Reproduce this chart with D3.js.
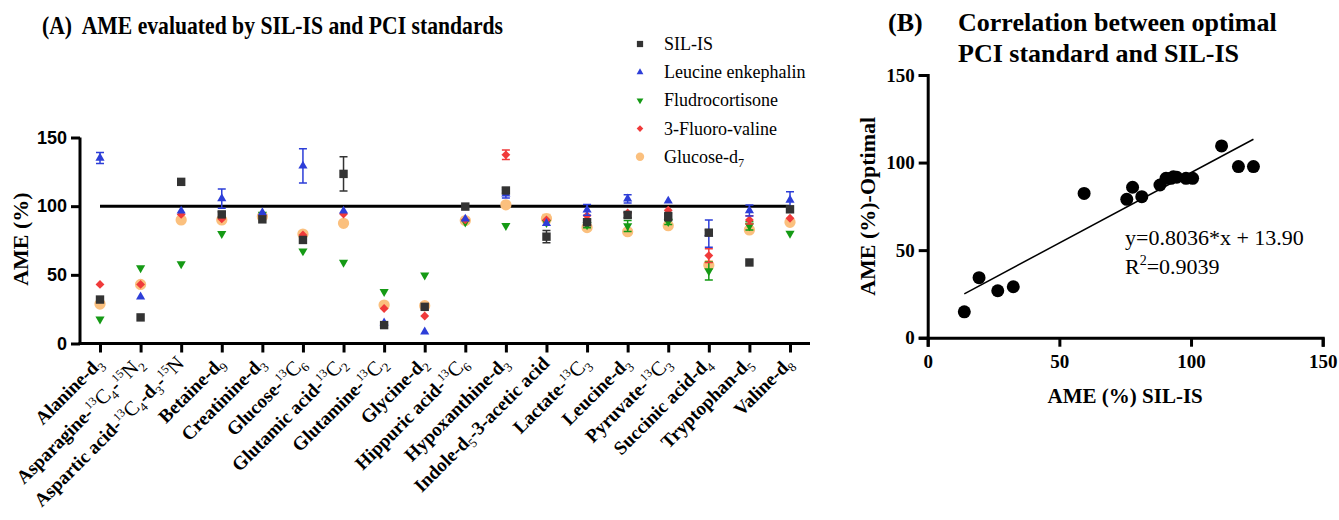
<!DOCTYPE html>
<html>
<head>
<meta charset="utf-8">
<script src="https://cdn.jsdelivr.net/npm/d3@7"></script>
<style>
  body { margin: 0; background: #fff; }
  svg { display: block; font-family: "Liberation Serif", "Times New Roman", serif; }
  .axis path, .axis line { stroke: #000; stroke-width: 3px; }
  .axis text { font-weight: bold; fill: #000; }
</style>
</head>
<body>
<svg id="chart"></svg>
<script>
// ---- panel A data ----
var categories = [
  "Alanine-d_3", "Asparagine-^13C_4-^15N_2", "Aspartic acid-^13C_4-d_3-^15N",
  "Betaine-d_9", "Creatinine-d_3", "Glucose-^13C_6", "Glutamic acid-^13C_2",
  "Glutamine-^13C_2", "Glycine-d_2", "Hippuric acid-^13C_6", "Hypoxanthine-d_3",
  "Indole-d_5-3-acetic acid", "Lactate-^13C_3", "Leucine-d_3", "Pyruvate-^13C_3",
  "Succinic acid-d_4", "Tryptophan-d_5", "Valine-d_8"
];
var silIS     = [32, 19, 117.7, 94, 90.4, 75.4, 123.5, 13.4, 26.7, 99.7, 111.4, 77.8, 88.3, 93.6, 92.4, 80.7, 59, 97.7];
var leuEnk    = [135, 34, 96.5, 105.5, 95.3, 129.3, 96.5, 15, 8.5, 90.7, 109, 87.5, 97.3, 105.3, 103.8, 80, 96.8, 104.5];
var fludro    = [17.7, 55, 58, 80, 94, 67.3, 59, 37.7, 49.8, 88.3, 85.8, 88, 86.3, 85.6, 88.7, 52.8, 85.6, 80.2];
var fluoroVal = [43, 43, 94, 90.7, 93, 79, 94.3, 25.5, 20, 90, 137.4, 90, 93, 95, 97, 64, 90, 91.2];
var glucoseD7 = [28.7, 43, 90, 90, 92.4, 79.7, 87.5, 28, 27.5, 89.5, 101, 91, 84.4, 81.4, 85.8, 57, 82.7, 88.3];

var silErr = [0, 0, 0, 2, 0, 0, 12.5, 0, 0, 0, 2, 4.5, 2, 2, 3, 2, 0, 2];
var leuErr = [4, 0, 0, 7, 0, 12.5, 0, 0, 0, 0, 3, 0, 4, 3, 0, 10, 4, 6];
var fluErr = [0, 0, 0, 0, 0, 0, 0, 0, 0, 0, 0, 0, 2, 4, 2, 6.5, 3, 0];
var fvErr  = [0, 0, 0, 0, 0, 0, 0, 0, 0, 0, 3.5, 0, 0, 0, 0, 5, 3, 0];
var gluErr = [0, 0, 0, 0, 0, 0, 0, 0, 0, 0, 0, 3, 0, 0, 0, 3, 0, 0];

var yTicksA = [0, 50, 100, 150];
var refLine = 100;

// ---- panel B data ----
var silX    = [13.9, 19.5, 26.6, 32.5, 59.4, 75.6, 77.8, 81.3, 88.2, 90.5, 92.4, 93.3, 94.6, 98.1, 100.6, 111.6, 118, 123.7];
var optimal = [14.8, 34.3, 26.8, 29.1, 82.4, 79, 85.9, 80.5, 87.2, 91, 91, 91.9, 91.6, 91, 91, 109.5, 97.7, 97.7];
var fitSlope = 0.8036, fitIntercept = 13.90;
var ticksB = [0, 50, 100, 150];

var w = 1339, h = 520;
var svg = d3.select("#chart").attr("width", w).attr("height", h);

// series, drawn bottom to top
var series = [
  { name: "Glucose-d_7", values: glucoseD7, err: gluErr, color: "#FBC07E", shape: d3.symbolCircle, size: 100 },
  { name: "Fludrocortisone", values: fludro, err: fluErr, color: "#159A15", shape: "down", size: 60 },
  { name: "3-Fluoro-valine", values: fluoroVal, err: fvErr, color: "#F03A3A", shape: d3.symbolDiamond2, size: 50 },
  { name: "Leucine enkephalin", values: leuEnk, err: leuErr, color: "#2D3ED8", shape: d3.symbolTriangle2, size: 60 },
  { name: "SIL-IS", values: silIS, err: silErr, color: "#333333", shape: d3.symbolSquare2, size: 90 }
];
var legendOrder = ["SIL-IS", "Leucine enkephalin", "Fludrocortisone", "3-Fluoro-valine", "Glucose-d_7"];

function symPath(s, size) {
  if (s.shape === "down") return d3.symbol(d3.symbolTriangle2, size || s.size)();
  return d3.symbol(s.shape, size || s.size)();
}
function symRot(s) { return s.shape === "down" ? " rotate(180)" : ""; }

// writes label with _n subscripts and ^n superscripts (isotope parts in regular weight)
function richText(sel, str, size, boldMain) {
  var parts = str.split(/(\^\d+[A-Z]?|_\d+)/).filter(function(p){ return p.length; });
  var shift = 0;
  parts.forEach(function(p) {
    var t = sel.append("tspan");
    var target = 0;
    if (p[0] === "^") {
      var m = p.match(/\^(\d+)([A-Z]?)/);
      t.text(m[1]).attr("font-size", size * 0.62).attr("font-weight", "normal");
      target = -size * 0.38;
      t.attr("dy", target - shift); shift = target;
      if (m[2]) {
        sel.append("tspan").text(m[2]).attr("font-size", size * 1.08).attr("font-weight", "normal").attr("dy", -shift);
        shift = 0;
      }
      return;
    } else if (p[0] === "_") {
      t.text(p.slice(1)).attr("font-size", size * 0.68).attr("font-weight", "normal");
      target = size * 0.25;
    } else {
      t.text(p);
      if (!boldMain) t.attr("font-weight", "normal");
    }
    t.attr("dy", target - shift);
    shift = target;
  });
}

// ---------------- Panel A ----------------
var x = d3.scalePoint().domain(d3.range(categories.length)).range([100, 790]);
var y = d3.scaleLinear().domain([0, 150]).range([343.5, 137.5]);

var gA = svg.append("g");

gA.append("g").attr("class", "axis")
  .attr("transform", "translate(80,0)")
  .call(d3.axisLeft(y).tickValues(yTicksA).tickSize(9).tickPadding(4))
  .call(function(g){
    g.attr("font-family", "'Liberation Sans', Arial, sans-serif").attr("font-size", 18);
    g.select(".domain").attr("d", "M0," + y(150) + "V" + (y(0) + 1.5));
  });

var xAx = gA.append("g").attr("class", "axis")
  .attr("transform", "translate(0," + y(0) + ")")
  .call(d3.axisBottom(x).tickSize(9).tickFormat(""));
xAx.select(".domain").attr("d", "M78.5,0H810");

// rotated category labels
categories.forEach(function(c, i) {
  var t = gA.append("text")
    .attr("transform", "translate(" + (x(i) + 4) + "," + (y(0) + 21) + ") rotate(-45)")
    .attr("text-anchor", "end")
    .attr("font-size", 19)
    .attr("font-weight", "bold");
  richText(t, c, 19, true);
});

gA.append("text")
  .attr("transform", "translate(28," + y(76) + ") rotate(-90)")
  .attr("text-anchor", "middle").attr("font-size", 22).attr("font-weight", "bold")
  .text("AME (%)");

// reference line
gA.append("line")
  .attr("x1", x(0)).attr("x2", x(categories.length - 1))
  .attr("y1", y(refLine)).attr("y2", y(refLine))
  .attr("stroke", "#000").attr("stroke-width", 3);

// error bars and markers
series.forEach(function(s) {
  var g = gA.append("g");
  s.values.forEach(function(v, i) {
    var e = s.err[i];
    if (!e) return;
    var cx = x(i);
    g.append("path")
      .attr("d", "M" + cx + "," + y(v - e) + "V" + y(v + e) +
        "M" + (cx - 4) + "," + y(v - e) + "H" + (cx + 4) +
        "M" + (cx - 4) + "," + y(v + e) + "H" + (cx + 4))
      .attr("stroke", s.color).attr("stroke-width", 1.5).attr("fill", "none");
  });
  g.selectAll(".m").data(s.values).enter().append("path")
    .attr("d", symPath(s))
    .attr("transform", function(d, i){ return "translate(" + x(i) + "," + y(d) + ")" + symRot(s); })
    .attr("fill", s.color);
});

// legend
var leg = gA.append("g");
legendOrder.forEach(function(n, i) {
  var s = series.filter(function(d){ return d.name === n; })[0];
  var ly = 44 + i * 28.2;
  leg.append("path")
    .attr("d", symPath(s, s.size * 0.55))
    .attr("transform", "translate(640," + ly + ")" + symRot(s))
    .attr("fill", s.color);
  var t = leg.append("text").attr("x", 664).attr("y", ly + 6).attr("font-size", 18);
  richText(t, n, 18, false);
});

// title
svg.append("text").attr("x", 42).attr("y", 34)
  .attr("font-size", 25).attr("font-weight", "bold")
  .attr("xml:space", "preserve")
  .attr("textLength", 461).attr("lengthAdjust", "spacingAndGlyphs")
  .text("(A)  AME evaluated by SIL-IS and PCI standards");

// ---------------- Panel B ----------------
var xb = d3.scaleLinear().domain([0, 150]).range([927.7, 1322.7]);
var yb = d3.scaleLinear().domain([0, 150]).range([337.7, 75]);
var gB = svg.append("g");

gB.append("g").attr("class", "axis")
  .attr("transform", "translate(" + xb(0) + ",0)")
  .call(d3.axisLeft(yb).tickValues(ticksB).tickSize(9).tickPadding(4))
  .call(function(g){ g.attr("font-family", "'Liberation Serif', serif").attr("font-size", 19); });

gB.append("g").attr("class", "axis")
  .attr("transform", "translate(0," + yb(0) + ")")
  .call(d3.axisBottom(xb).tickValues(ticksB).tickSize(9).tickPadding(8))
  .call(function(g){ g.attr("font-family", "'Liberation Serif', serif").attr("font-size", 19); });

gB.append("text").attr("x", xb(75)).attr("y", 403)
  .attr("text-anchor", "middle").attr("font-size", 21).attr("font-weight", "bold")
  .text("AME (%) SIL-IS");
gB.append("text")
  .attr("transform", "translate(875," + yb(75) + ") rotate(-90)")
  .attr("text-anchor", "middle").attr("font-size", 22).attr("font-weight", "bold")
  .text("AME (%)-Optimal");

var xMin = d3.min(silX), xMax = d3.max(silX);
gB.append("line")
  .attr("x1", xb(xMin)).attr("y1", yb(fitSlope * xMin + fitIntercept))
  .attr("x2", xb(xMax)).attr("y2", yb(fitSlope * xMax + fitIntercept))
  .attr("stroke", "#000").attr("stroke-width", 1.5);

gB.selectAll(".dot").data(silX).enter().append("circle")
  .attr("cx", function(d){ return xb(d); })
  .attr("cy", function(d, i){ return yb(optimal[i]); })
  .attr("r", 6.5).attr("fill", "#000");

gB.append("text").attr("x", 1125).attr("y", 245).attr("font-size", 22)
  .text("y=" + fitSlope.toFixed(4) + "*x + " + fitIntercept.toFixed(2));
var r2 = gB.append("text").attr("x", 1125).attr("y", 274).attr("font-size", 22);
r2.append("tspan").text("R");
r2.append("tspan").text("2").attr("font-size", 14).attr("dy", -9);
r2.append("tspan").text("=0.9039").attr("dy", 9);

svg.append("text").attr("x", 888).attr("y", 31).attr("font-size", 26).attr("font-weight", "bold").text("(B)");
svg.append("text").attr("x", 958).attr("y", 31).attr("font-size", 26).attr("font-weight", "bold").text("Correlation between optimal");
svg.append("text").attr("x", 958).attr("y", 62).attr("font-size", 26).attr("font-weight", "bold").text("PCI standard and SIL-IS");
</script>
</body>
</html>
